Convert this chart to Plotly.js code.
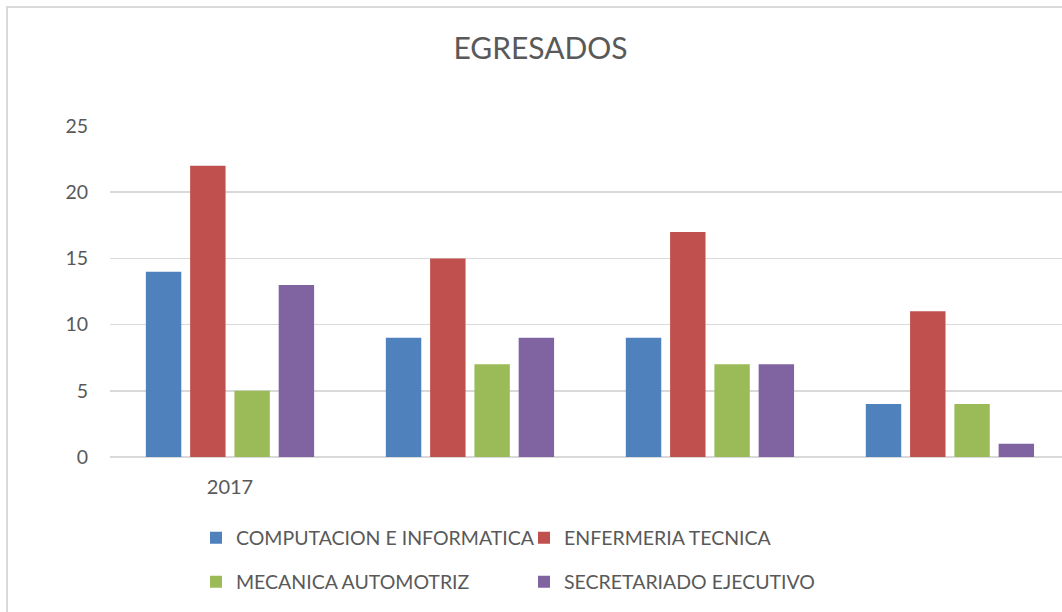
<!DOCTYPE html>
<html><head><meta charset="utf-8">
<script src="https://cdn.plot.ly/plotly-3.0.1.min.js"></script>
<style>html,body{margin:0;padding:0;background:#fff}#chart{width:1062px;height:612px}</style>
</head><body><div id="chart"></div>
<script>
var categories = ['2017', '', '', ''];
var seriesNames = ['COMPUTACION E INFORMATICA', 'ENFERMERIA TECNICA', 'MECANICA AUTOMOTRIZ', 'SECRETARIADO EJECUTIVO'];
var computacion = [14, 9, 9, 4];
var enfermeria = [22, 15, 17, 11];
var mecanica = [5, 7, 7, 4];
var secretariado = [13, 9, 7, 1];
var colors = ['#4f81bd', '#c0504d', '#9bbb59', '#8064a2'];
var yTicks = [0, 5, 10, 15, 20, 25];

var idx = categories.map(function(_, i){ return i; });
var values = [computacion, enfermeria, mecanica, secretariado];
var legends = ['legend', 'legend', 'legend2', 'legend2'];
var traces = values.map(function(v, i){
  return {type:'bar', x: idx, y: v, name: seriesNames[i], legend: legends[i],
    marker:{color: colors[i], line:{width:0}}, hoverinfo:'none'};
});
var font = 'Lato, "Open Sans", sans-serif';
var legFont = {family:font, size:19.5, color:'#595959'};
var layout = {
  width: 1062, height: 612,
  margin: {l:110, r:0, t:126, b:155, pad:0},
  paper_bgcolor:'#fff', plot_bgcolor:'#fff',
  showlegend: true,
  barmode:'group', bargap:0.262, bargroupgap:0.2,
  title: {text:'EGRESADOS', font:{family:font, size:30, color:'#595959'}, x:0.509, xanchor:'center', y:0.92, yanchor:'middle'},
  xaxis: {range:[-0.5, 3.467], tickvals: idx, ticktext: categories, ticks:'', showgrid:false, zeroline:false,
    showline:false, tickfont:{family:font, size:20, color:'#595959'}, ticklabelstandoff:16, fixedrange:true},
  yaxis: {range:[0,25], tickvals: yTicks, showgrid:true, gridcolor:'#d9d9d9', gridwidth:1.5, zeroline:true,
    zerolinecolor:'#d9d9d9', zerolinewidth:1.5, ticks:'', ticklen:0, tickfont:{family:font, size:19.5, color:'#595959'},
    ticklabelstandoff: 21, fixedrange:true},
  legend: {orientation:'h', x:(196-110)/952, xanchor:'left', y:(457-538)/331, yanchor:'middle', entrywidth:283, entrywidthmode:'pixels',
    font:legFont, itemwidth:30, bgcolor:'rgba(0,0,0,0)'},
  legend2: {orientation:'h', x:(196-110)/952, xanchor:'left', y:(457-582)/331, yanchor:'middle', entrywidth:283, entrywidthmode:'pixels',
    font:legFont, itemwidth:30, bgcolor:'rgba(0,0,0,0)'},
  shapes: [{type:'rect', xref:'paper', yref:'paper', x0:(7-110)/952, x1:1.2, y0:-0.6, y1:(457-7)/331,
    line:{color:'#d9d9d9', width:2}, fillcolor:'rgba(0,0,0,0)', layer:'below'}]
};
Plotly.newPlot('chart', traces, layout, {displayModeBar:false, staticPlot:true});
</script></body></html>
